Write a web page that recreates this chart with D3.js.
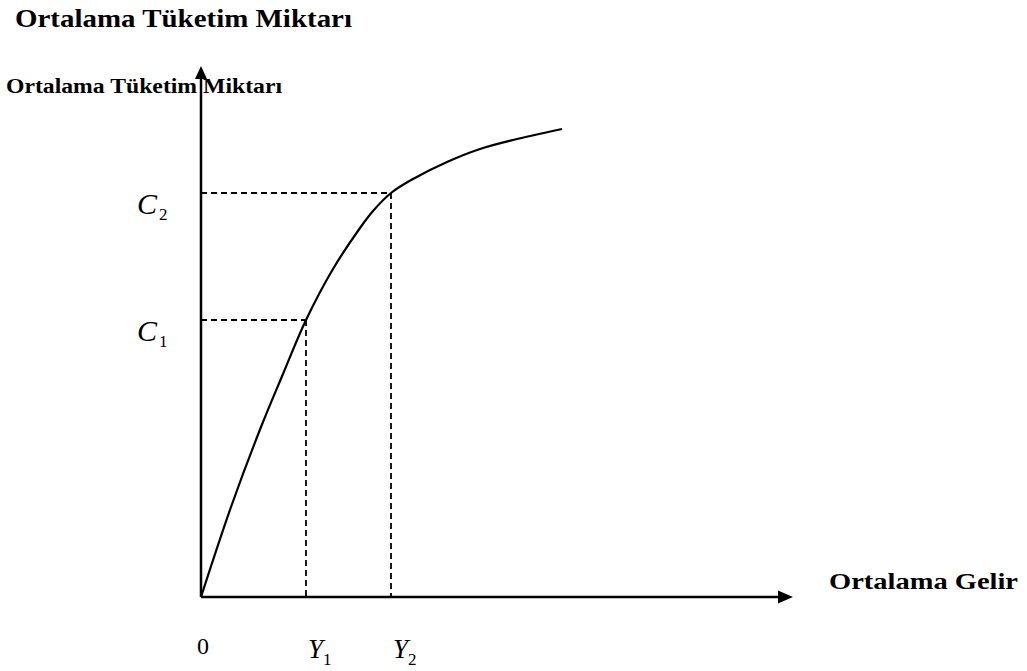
<!DOCTYPE html>
<html>
<head>
<meta charset="utf-8">
<script src="https://cdn.jsdelivr.net/npm/d3@7"></script>
<style>
  html, body { margin: 0; padding: 0; background: #fff; }
  svg { display: block; }
  text { font-family: "Liberation Serif", "Times New Roman", serif; fill: #000; }
</style>
</head>
<body>
<svg id="chart" width="1027" height="671"></svg>
<script>
// ---- data (arbitrary income / consumption units) ----
const curveIncome      = [0, 30, 60, 82, 105, 132, 159, 172, 190, 212, 246, 279, 312, 361];
const curveConsumption = [0, 90, 170, 223, 277, 328, 369, 386, 404, 418, 435, 448, 457, 468];
const incomeMarks      = [105, 190];          // Y1, Y2
const consumptionMarks = [277, 404];          // C1, C2
const incomeLabels     = ["1", "2"];
const consumptionLabels= ["1", "2"];
const titleText  = "Ortalama Tüketim Miktarı";
const yAxisTitle = "Ortalama Tüketim Miktarı";
const xAxisTitle = "Ortalama Gelir";
const originLabel = "0";

const svg = d3.select("#chart");

const x = d3.scaleLinear().domain([0, 592]).range([201, 793]);
const y = d3.scaleLinear().domain([0, 531]).range([597, 66]);

// title
svg.append("text").attr("x", 15).attr("y", 27)
  .attr("font-size", 25).attr("font-weight", "bold")
  .attr("textLength", 337).attr("lengthAdjust", "spacingAndGlyphs")
  .text(titleText);

// y axis title
svg.append("text").attr("x", 6).attr("y", 93)
  .attr("font-size", 20).attr("font-weight", "bold")
  .attr("textLength", 276).attr("lengthAdjust", "spacingAndGlyphs")
  .text(yAxisTitle);

// x axis title
svg.append("text").attr("x", 829).attr("y", 589)
  .attr("font-size", 24).attr("font-weight", "bold")
  .attr("textLength", 189).attr("lengthAdjust", "spacingAndGlyphs")
  .text(xAxisTitle);

// dashed guide lines
const dash = "6,4";
incomeMarks.forEach((ix, i) => {
  const cy = consumptionMarks[i];
  svg.append("line")
    .attr("x1", x(0)).attr("x2", x(ix)).attr("y1", y(cy)).attr("y2", y(cy))
    .attr("stroke", "#000").attr("stroke-width", 1.8).attr("stroke-dasharray", dash);
  svg.append("line")
    .attr("x1", x(ix)).attr("x2", x(ix)).attr("y1", y(cy)).attr("y2", y(0))
    .attr("stroke", "#000").attr("stroke-width", 1.8).attr("stroke-dasharray", dash);
});

// axes
const axisEnd = 592, axisTop = 531;
svg.append("line").attr("x1", x(0)).attr("x2", x(axisEnd) - 12)
  .attr("y1", y(0)).attr("y2", y(0)).attr("stroke", "#000").attr("stroke-width", 2.5);
svg.append("line").attr("x1", x(0)).attr("x2", x(0))
  .attr("y1", y(0)).attr("y2", y(axisTop) + 10).attr("stroke", "#000").attr("stroke-width", 2.5);
// arrow heads
svg.append("path")
  .attr("d", `M${x(axisEnd)},${y(0)} L${x(axisEnd) - 15},${y(0) - 6.5} L${x(axisEnd) - 15},${y(0) + 6.5} Z`)
  .attr("fill", "#000");
svg.append("path")
  .attr("d", `M${x(0)},${y(axisTop)} L${x(0) - 6},${y(axisTop) + 13} L${x(0) + 6},${y(axisTop) + 13} Z`)
  .attr("fill", "#000");

// curve
const pts = curveIncome.map((v, i) => [v, curveConsumption[i]]);
const line = d3.line().x(d => x(d[0])).y(d => y(d[1])).curve(d3.curveCatmullRom.alpha(0.5));
svg.append("path").datum(pts).attr("d", line)
  .attr("fill", "none").attr("stroke", "#000").attr("stroke-width", 2.2);

// C labels
consumptionMarks.forEach((cv, i) => {
  const t = svg.append("text").attr("x", 137).attr("y", y(cv) + 21)
    .attr("font-size", 30).attr("font-style", "italic");
  t.append("tspan").text("C");
  t.append("tspan").attr("font-size", 17).attr("font-style", "normal")
    .attr("dx", 2).attr("dy", 6).text(consumptionLabels[i]);
});

// Y labels
incomeMarks.forEach((iv, i) => {
  const t = svg.append("text").attr("x", x(iv) + 2).attr("y", 658)
    .attr("font-size", 27).attr("font-style", "italic");
  t.append("tspan").text("Y");
  t.append("tspan").attr("font-size", 17).attr("font-style", "normal")
    .attr("dx", 0).attr("dy", 7).text(incomeLabels[i]);
});

// origin
svg.append("text").attr("x", 197).attr("y", 654).attr("font-size", 24).text(originLabel);
</script>
</body>
</html>
